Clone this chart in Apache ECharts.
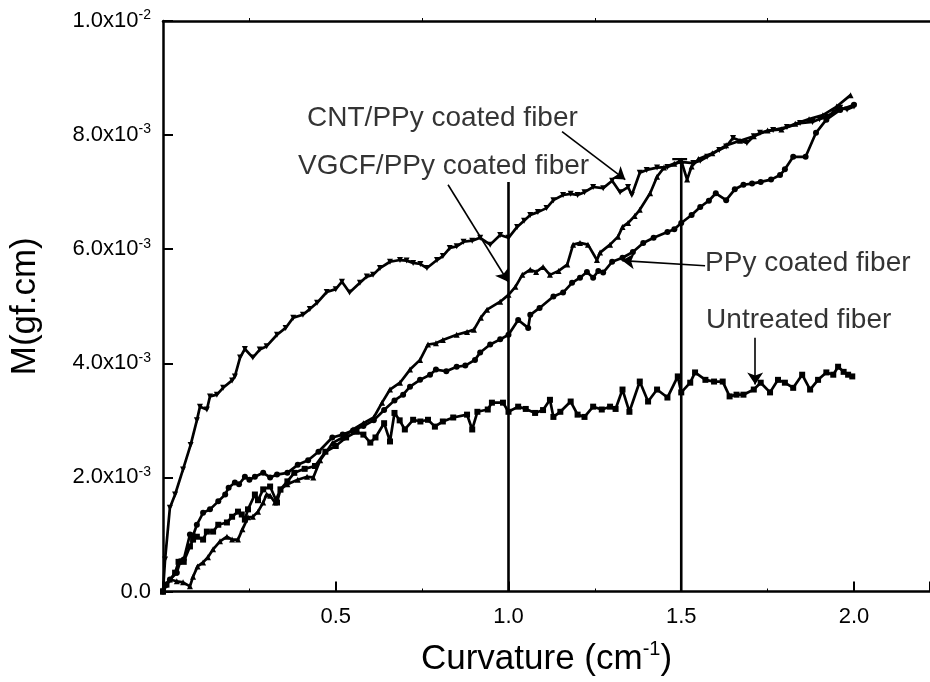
<!DOCTYPE html>
<html>
<head>
<meta charset="utf-8">
<script src="https://cdn.jsdelivr.net/npm/echarts@6/dist/echarts.min.js"></script>
<style>html,body{margin:0;padding:0;background:#fff}#c{width:930px;height:682px}</style>
</head>
<body>
<div id="c"></div>
<script>
// Values: x = curvature (cm^-1), y = M in units of 1e-3 gf.cm
const cntData = [[0,0],[0.006,0.56],[0.02,1.47],[0.035,1.7],[0.058,2.14],[0.08,2.57],[0.098,3.0],[0.107,3.24],[0.127,3.19],[0.136,3.42],[0.156,3.45],[0.174,3.57],[0.2,3.7],[0.208,3.77],[0.223,4.1],[0.237,4.25],[0.26,4.1],[0.28,4.24],[0.3,4.3],[0.33,4.5],[0.355,4.62],[0.377,4.8],[0.405,4.85],[0.425,4.95],[0.446,5.06],[0.474,5.25],[0.5,5.3],[0.518,5.43],[0.54,5.24],[0.57,5.41],[0.59,5.52],[0.608,5.55],[0.628,5.67],[0.657,5.78],[0.686,5.81],[0.705,5.8],[0.724,5.76],[0.745,5.74],[0.764,5.67],[0.793,5.81],[0.81,5.88],[0.83,6.02],[0.85,6.05],[0.87,6.13],[0.895,6.15],[0.918,6.2],[0.947,6.08],[0.976,6.25],[1.0,6.2],[1.025,6.39],[1.045,6.5],[1.063,6.6],[1.085,6.65],[1.11,6.72],[1.13,6.86],[1.158,6.95],[1.18,6.97],[1.2,6.95],[1.22,7.0],[1.245,7.09],[1.274,7.07],[1.3,7.2],[1.323,7.0],[1.346,7.09],[1.357,6.95],[1.38,7.34],[1.4,7.39],[1.43,7.43],[1.46,7.44],[1.497,7.53],[1.535,7.51],[1.555,7.55],[1.575,7.62],[1.61,7.74],[1.63,7.8],[1.65,7.95],[1.69,7.86],[1.71,7.98],[1.728,8.04],[1.766,8.09],[1.806,8.14],[1.844,8.21],[1.88,8.23],[1.9,8.28],[1.92,8.32],[1.94,8.4],[1.96,8.48],[1.98,8.45],[2.0,8.5]];
const vgcfData = [[0,0],[0.006,0.12],[0.02,0.21],[0.04,0.18],[0.058,0.16],[0.078,0.09],[0.087,0.26],[0.1,0.44],[0.116,0.51],[0.13,0.6],[0.145,0.74],[0.165,0.88],[0.185,0.96],[0.2,0.91],[0.217,0.91],[0.23,1.09],[0.246,1.3],[0.26,1.31],[0.275,1.4],[0.29,1.56],[0.3,1.7],[0.31,1.68],[0.324,1.56],[0.34,1.79],[0.36,1.88],[0.39,1.96],[0.417,2.01],[0.435,2.0],[0.455,2.3],[0.49,2.6],[0.52,2.7],[0.55,2.84],[0.58,2.95],[0.61,3.05],[0.634,3.31],[0.657,3.54],[0.686,3.66],[0.715,3.89],[0.744,4.06],[0.767,4.33],[0.79,4.35],[0.81,4.41],[0.85,4.5],[0.88,4.55],[0.9,4.59],[0.92,4.8],[0.938,4.94],[0.976,5.08],[1.0,5.2],[1.02,5.34],[1.04,5.55],[1.063,5.64],[1.08,5.6],[1.1,5.69],[1.12,5.55],[1.145,5.62],[1.17,5.73],[1.187,6.08],[1.207,6.11],[1.23,6.08],[1.256,5.81],[1.265,5.94],[1.294,6.08],[1.317,6.22],[1.33,6.39],[1.346,6.46],[1.365,6.58],[1.38,6.69],[1.41,6.98],[1.43,7.27],[1.45,7.43],[1.48,7.5],[1.5,7.55],[1.517,7.22],[1.53,7.45],[1.55,7.58],[1.59,7.68],[1.63,7.82],[1.67,7.9],[1.71,7.98],[1.75,8.08],[1.79,8.1],[1.83,8.2],[1.87,8.28],[1.91,8.35],[1.95,8.5],[1.99,8.7]];
const ppyData = [[0,0],[0.02,0.21],[0.04,0.33],[0.05,0.53],[0.06,0.56],[0.078,1.0],[0.087,0.98],[0.098,1.17],[0.116,1.38],[0.136,1.44],[0.16,1.58],[0.18,1.7],[0.19,1.82],[0.208,1.91],[0.22,1.88],[0.237,2.01],[0.25,1.96],[0.266,2.01],[0.29,2.08],[0.31,2.0],[0.33,2.05],[0.36,2.08],[0.39,2.22],[0.42,2.3],[0.45,2.45],[0.49,2.7],[0.52,2.75],[0.55,2.82],[0.58,2.9],[0.61,3.0],[0.64,3.18],[0.67,3.35],[0.695,3.45],[0.715,3.59],[0.744,3.71],[0.773,3.8],[0.79,3.89],[0.82,3.86],[0.85,3.94],[0.875,3.96],[0.903,4.06],[0.918,4.19],[0.947,4.33],[0.976,4.42],[1.0,4.5],[1.028,4.76],[1.057,4.62],[1.063,4.85],[1.09,4.97],[1.13,5.17],[1.158,5.24],[1.184,5.41],[1.207,5.5],[1.227,5.6],[1.245,5.5],[1.26,5.62],[1.274,5.59],[1.3,5.78],[1.33,5.85],[1.36,5.95],[1.39,6.11],[1.42,6.2],[1.46,6.3],[1.48,6.35],[1.5,6.46],[1.53,6.6],[1.555,6.74],[1.58,6.85],[1.6,6.98],[1.63,6.86],[1.655,7.05],[1.68,7.13],[1.705,7.15],[1.73,7.18],[1.76,7.22],[1.786,7.3],[1.8,7.4],[1.824,7.62],[1.86,7.62],[1.89,8.04],[1.92,8.27],[1.96,8.44],[2.0,8.53]];
const untreatedData = [[0,0],[0.01,0.12],[0.035,0.33],[0.045,0.52],[0.06,0.52],[0.078,0.79],[0.087,0.91],[0.098,0.96],[0.116,0.91],[0.127,1.05],[0.145,1.05],[0.16,1.17],[0.185,1.21],[0.2,1.31],[0.217,1.4],[0.228,1.35],[0.237,1.26],[0.246,1.44],[0.266,1.7],[0.275,1.6],[0.29,1.79],[0.31,1.84],[0.33,1.56],[0.34,1.79],[0.36,1.93],[0.38,2.08],[0.41,2.15],[0.44,2.2],[0.47,2.45],[0.5,2.55],[0.53,2.7],[0.56,2.8],[0.58,2.75],[0.6,2.61],[0.615,2.7],[0.64,2.95],[0.657,2.63],[0.67,3.13],[0.685,3.0],[0.7,2.84],[0.724,3.01],[0.745,2.98],[0.767,3.01],[0.787,2.89],[0.81,2.98],[0.84,3.05],[0.88,3.1],[0.895,2.84],[0.91,3.15],[0.94,3.19],[0.952,3.31],[0.984,3.31],[1.0,3.15],[1.028,3.24],[1.05,3.2],[1.077,3.13],[1.1,3.18],[1.12,3.36],[1.13,3.06],[1.15,3.15],[1.18,3.33],[1.2,3.1],[1.22,3.06],[1.245,3.24],[1.27,3.19],[1.294,3.24],[1.31,3.2],[1.33,3.54],[1.35,3.15],[1.38,3.68],[1.404,3.33],[1.43,3.54],[1.46,3.4],[1.49,3.77],[1.5,3.49],[1.526,3.66],[1.54,3.84],[1.57,3.71],[1.595,3.68],[1.62,3.68],[1.64,3.42],[1.66,3.45],[1.68,3.45],[1.71,3.54],[1.73,3.66],[1.757,3.49],[1.78,3.71],[1.8,3.66],[1.824,3.57],[1.85,3.8],[1.873,3.54],[1.896,3.71],[1.92,3.84],[1.94,3.8],[1.954,3.94],[1.97,3.85],[1.983,3.8],[1.995,3.77]];
// vertical guide lines: [x, top y]
const guideLines = [[1.0, 7.18], [1.5, 7.58]];
const guideCap = [[1.474, 7.58], [1.517, 7.58]];
// annotations: text, text anchor [x,y], arrow from [x,y], arrow to [x,y]
const annoTexts = ['CNT/PPy coated fiber', 'VGCF/PPy coated fiber', 'PPy coated fiber', 'Untreated fiber'];
const annoPos = [[0.417, 8.3], [0.391, 7.46], [1.569, 5.76], [1.572, 4.76]];
const arrowFrom = [[1.155, 8.06], [0.825, 7.13], [1.569, 5.71], [1.714, 4.45]];
const arrowTo = [[1.338, 7.22], [0.999, 5.43], [1.329, 5.8], [1.714, 3.63]];
const xTicks = [0.5, 1.0, 1.5, 2.0];
const yTicks = [0, 2, 4, 6, 8, 10];

const FONT = "'Liberation Sans', Arial, sans-serif";
const chart = echarts.init(document.getElementById('c'), null, {renderer: 'canvas'});
function curve(name, data, symbol, rot) {
  return {
    name, type: 'line', data, symbol, symbolSize: 6, symbolRotate: rot || 0,
    lineStyle: {color: '#000', width: 2.7}, itemStyle: {color: '#000'},
    showAllSymbol: true, animation: false, z: 3
  };
}
const series = [
  curve('CNT/PPy', cntData, 'triangle', 180),
  curve('VGCF/PPy', vgcfData, 'triangle'),
  curve('PPy', ppyData, 'circle'),
  curve('Untreated', untreatedData, 'rect')
];
guideLines.forEach(g => {
  series.push({type: 'line', data: [[g[0], 0], [g[0], g[1]]], symbol: 'none',
    lineStyle: {color: '#000', width: 2.6}, animation: false, z: 2});
});
series.push({type: 'line', data: guideCap, symbol: 'none', lineStyle: {color: '#000', width: 2.2}, animation: false, z: 2});
series.push({
  type: 'lines', coordinateSystem: 'cartesian2d', animation: false, z: 4,
  symbol: ['none', 'arrow'], symbolSize: 12,
  lineStyle: {color: '#000', width: 1.6, opacity: 1},
  data: arrowFrom.map((f, i) => ({coords: [f, arrowTo[i]]}))
});
series.push({
  type: 'scatter', symbolSize: 0, animation: false, z: 5, silent: true,
  data: annoPos.map((p, i) => ({value: p, name: annoTexts[i]})),
  label: {show: true, position: 'right', distance: 0, formatter: p => p.name,
    color: '#000', fontSize: 28, fontFamily: FONT}
});

const XMAX = 2.22;
const axisX = {
  type: 'value', min: 0, max: XMAX, interval: 0.5,
  axisLine: {show: true, lineStyle: {color: '#000', width: 2.5}},
  minorTick: {show: true, splitNumber: 2, length: 3, lineStyle: {color: '#000', width: 1}},
  splitLine: {show: false}
};
chart.setOption({
  backgroundColor: '#fff',
  animation: false,
  grid: {left: 163, top: 21, width: Math.round(XMAX * 345.4), height: 571, containLabel: false},
  xAxis: [Object.assign({}, axisX, {
    name: '{a|Curvature (cm}{s|-1}{a|)}', nameLocation: 'middle', nameGap: 48,
    nameTextStyle: {rich: {
      a: {fontSize: 35, fontFamily: FONT, color: '#000'},
      s: {fontSize: 20, fontFamily: FONT, color: '#000', padding: [0, 0, 20, 0]}
    }},
    axisTick: {show: true, inside: true, length: 10, lineStyle: {color: '#000', width: 2}},
    axisLabel: {color: '#000', fontSize: 22, fontFamily: FONT, margin: 14, showMaxLabel: false,
      formatter: v => xTicks.indexOf(v) >= 0 ? v.toFixed(1) : ''}
  }), Object.assign({}, axisX, {
    position: 'top', axisTick: {show: false}, axisLabel: {show: false}
  })],
  yAxis: [{
    type: 'value', min: 0, max: 10, interval: 2,
    name: 'M(gf.cm)', nameLocation: 'middle', nameGap: 120, nameRotate: 90,
    nameTextStyle: {fontSize: 35, fontFamily: FONT, color: '#000'},
    axisLine: {show: true, lineStyle: {color: '#000', width: 2.5}},
    axisTick: {show: true, inside: true, length: 10, lineStyle: {color: '#000', width: 2}},
    splitLine: {show: false},
    axisLabel: {margin: 12, fontFamily: FONT,
      formatter: v => yTicks.indexOf(v) < 0 ? '' : (v === 0 ? '{a|0.0}' : (v === 10 ? '{a|1.0x10}{s|-2}' : '{a|' + v.toFixed(1) + 'x10}{s|-3}')),
      rich: {
        a: {fontSize: 22, fontFamily: FONT, color: '#000'},
        s: {fontSize: 14, fontFamily: FONT, color: '#000', padding: [0, 0, 11, 0]}
      }}
  }],
  series
});
</script>
</body>
</html>
